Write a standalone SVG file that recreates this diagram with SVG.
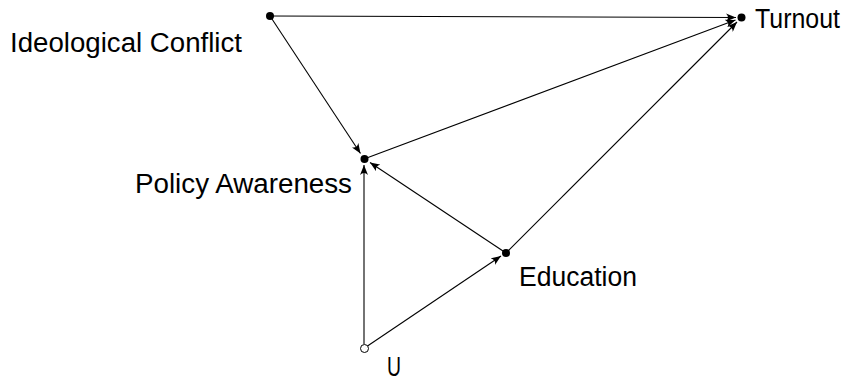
<svg xmlns="http://www.w3.org/2000/svg" width="861" height="383" viewBox="0 0 861 383">
<style>
.lbl{font-family:"Liberation Sans",Arial,sans-serif;font-size:27px;fill:#000}
.e{stroke:#000;stroke-width:1.1;fill:none;marker-end:url(#ah)}
</style>
<defs>
<marker id="ah" viewBox="0 0 10 8" refX="10" refY="4" markerWidth="10" markerHeight="8" markerUnits="userSpaceOnUse" orient="auto">
<path d="M0,0 Q4,4 0,8 L10,4 Z" fill="#000"/>
</marker>
</defs>
<rect width="861" height="383" fill="#fff"/>
<g id="connectors">
<line class="e" x1="270" y1="16" x2="736" y2="17.5"/>
<line class="e" x1="270" y1="16" x2="360.5" y2="153.5"/>
<line class="e" x1="364" y1="159" x2="735.5" y2="20"/>
<line class="e" x1="506" y1="253" x2="737" y2="22"/>
<line class="e" x1="506" y1="253" x2="370" y2="162.5"/>
<line class="e" x1="364" y1="344" x2="364" y2="165"/>
<line class="e" x1="367.5" y1="346" x2="501" y2="256"/>
</g>
<g id="ideological-conflict">
<circle cx="270" cy="16" r="4" fill="#000"/>
<text class="lbl" x="10" y="52" textLength="232" lengthAdjust="spacingAndGlyphs">Ideological Conflict</text>
</g>
<g id="turnout">
<circle cx="741.5" cy="17.5" r="4" fill="#000"/>
<text class="lbl" x="755" y="28" textLength="85" lengthAdjust="spacingAndGlyphs">Turnout</text>
</g>
<g id="policy-awareness">
<circle cx="364.5" cy="159" r="4" fill="#000"/>
<text class="lbl" x="135" y="193" textLength="217" lengthAdjust="spacingAndGlyphs">Policy Awareness</text>
</g>
<g id="education">
<circle cx="506" cy="253" r="4" fill="#000"/>
<text class="lbl" x="519" y="286" textLength="118" lengthAdjust="spacingAndGlyphs">Education</text>
</g>
<g id="u">
<circle cx="364.5" cy="348.5" r="4" fill="#fff" stroke="#000" stroke-width="1"/>
<text class="lbl" x="387" y="376" textLength="14" lengthAdjust="spacingAndGlyphs">U</text>
</g>
</svg>
